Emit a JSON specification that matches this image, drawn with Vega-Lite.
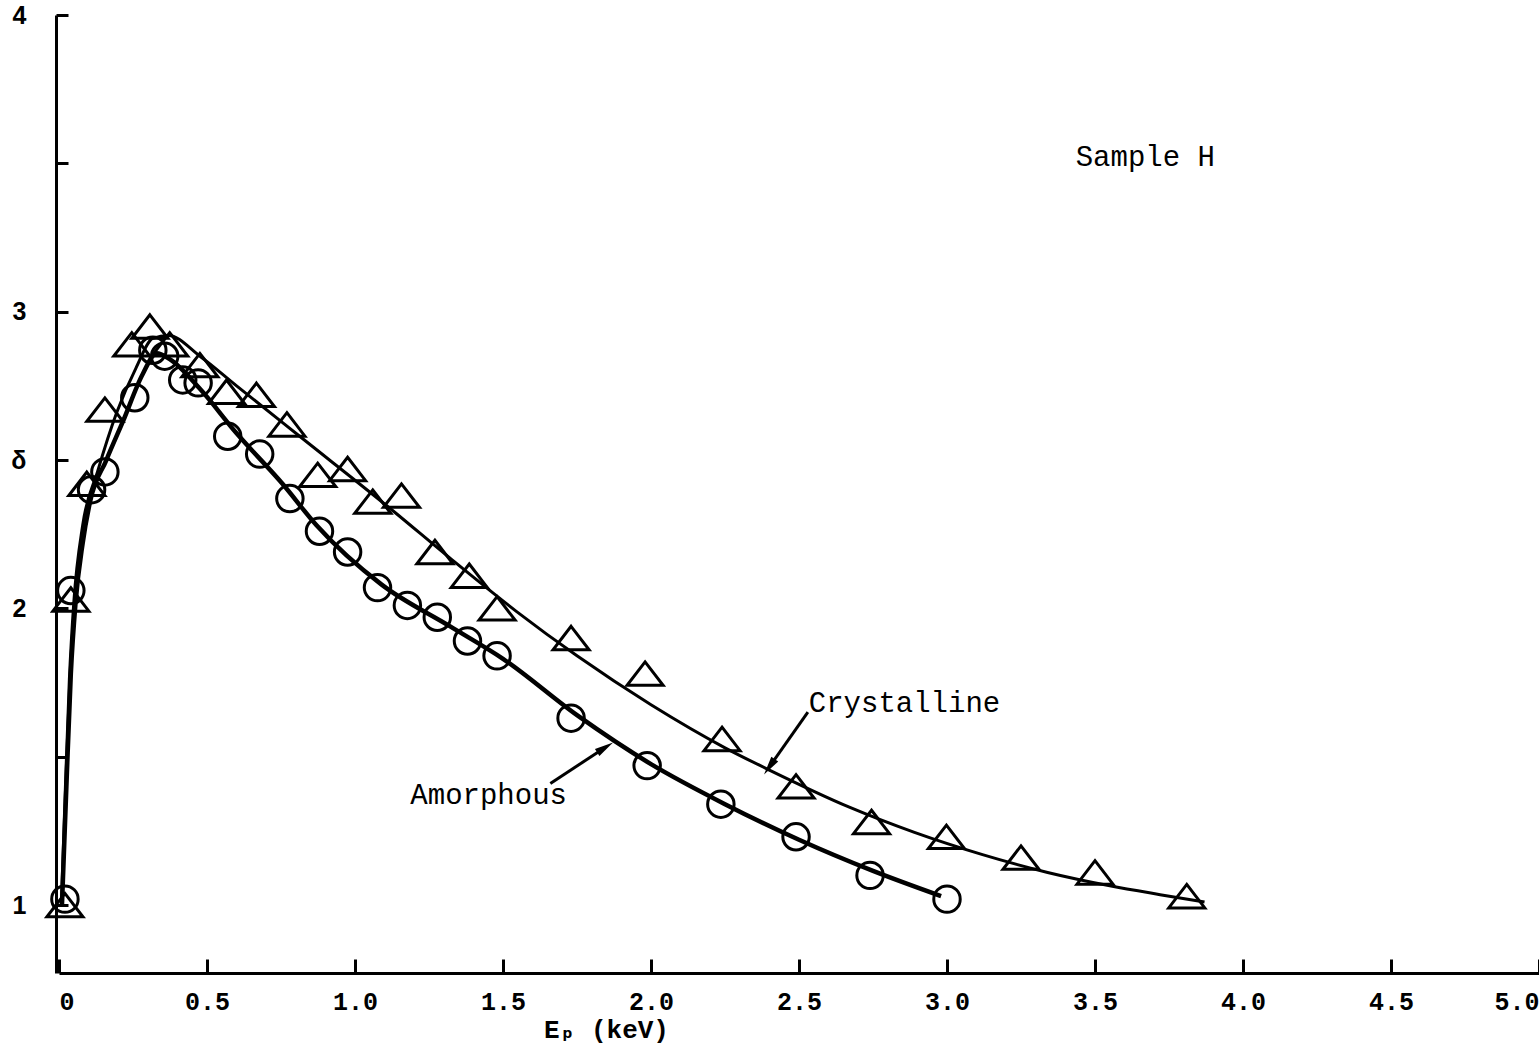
{
  "$schema": "https://vega.github.io/schema/vega-lite/v6.json",
  "width": 1480,
  "height": 958,
  "autosize": {"type": "none"},
  "padding": {"left": 59, "top": 15, "right": 0, "bottom": 84},
  "background": "white",
  "config": {
    "view": {"stroke": null},
    "axis": {"grid": false, "domainColor": "black", "tickColor": "black", "labelColor": "black", "titleColor": "black", "domainWidth": 3, "tickWidth": 3}
  },
  "data": {
    "values": [
      {"k": "pt", "s": "Crystalline", "x": 0.02, "y": 1.0},
      {"k": "pt", "s": "Crystalline", "x": 0.04, "y": 2.03},
      {"k": "pt", "s": "Crystalline", "x": 0.094, "y": 2.42},
      {"k": "pt", "s": "Crystalline", "x": 0.155, "y": 2.67},
      {"k": "pt", "s": "Crystalline", "x": 0.246, "y": 2.89},
      {"k": "pt", "s": "Crystalline", "x": 0.307, "y": 2.95},
      {"k": "pt", "s": "Crystalline", "x": 0.374, "y": 2.89},
      {"k": "pt", "s": "Crystalline", "x": 0.476, "y": 2.82},
      {"k": "pt", "s": "Crystalline", "x": 0.566, "y": 2.73},
      {"k": "pt", "s": "Crystalline", "x": 0.667, "y": 2.72},
      {"k": "pt", "s": "Crystalline", "x": 0.77, "y": 2.62},
      {"k": "pt", "s": "Crystalline", "x": 0.874, "y": 2.45},
      {"k": "pt", "s": "Crystalline", "x": 0.975, "y": 2.47},
      {"k": "pt", "s": "Crystalline", "x": 1.06, "y": 2.36},
      {"k": "pt", "s": "Crystalline", "x": 1.157, "y": 2.38},
      {"k": "pt", "s": "Crystalline", "x": 1.27, "y": 2.19},
      {"k": "pt", "s": "Crystalline", "x": 1.386, "y": 2.11},
      {"k": "pt", "s": "Crystalline", "x": 1.48, "y": 2.0},
      {"k": "pt", "s": "Crystalline", "x": 1.73, "y": 1.9},
      {"k": "pt", "s": "Crystalline", "x": 1.98, "y": 1.78},
      {"k": "pt", "s": "Crystalline", "x": 2.24, "y": 1.56},
      {"k": "pt", "s": "Crystalline", "x": 2.49, "y": 1.4},
      {"k": "pt", "s": "Crystalline", "x": 2.745, "y": 1.28},
      {"k": "pt", "s": "Crystalline", "x": 2.998, "y": 1.23},
      {"k": "pt", "s": "Crystalline", "x": 3.25, "y": 1.16},
      {"k": "pt", "s": "Crystalline", "x": 3.5, "y": 1.11},
      {"k": "pt", "s": "Crystalline", "x": 3.81, "y": 1.03},
      {"k": "pt", "s": "Amorphous", "x": 0.02, "y": 1.02},
      {"k": "pt", "s": "Amorphous", "x": 0.04, "y": 2.06},
      {"k": "pt", "s": "Amorphous", "x": 0.11, "y": 2.4},
      {"k": "pt", "s": "Amorphous", "x": 0.155, "y": 2.46},
      {"k": "pt", "s": "Amorphous", "x": 0.256, "y": 2.71},
      {"k": "pt", "s": "Amorphous", "x": 0.317, "y": 2.87},
      {"k": "pt", "s": "Amorphous", "x": 0.357, "y": 2.85},
      {"k": "pt", "s": "Amorphous", "x": 0.418, "y": 2.77},
      {"k": "pt", "s": "Amorphous", "x": 0.47, "y": 2.76},
      {"k": "pt", "s": "Amorphous", "x": 0.57, "y": 2.58},
      {"k": "pt", "s": "Amorphous", "x": 0.678, "y": 2.52},
      {"k": "pt", "s": "Amorphous", "x": 0.78, "y": 2.37},
      {"k": "pt", "s": "Amorphous", "x": 0.88, "y": 2.26},
      {"k": "pt", "s": "Amorphous", "x": 0.975, "y": 2.19},
      {"k": "pt", "s": "Amorphous", "x": 1.076, "y": 2.07},
      {"k": "pt", "s": "Amorphous", "x": 1.177, "y": 2.01},
      {"k": "pt", "s": "Amorphous", "x": 1.278, "y": 1.97},
      {"k": "pt", "s": "Amorphous", "x": 1.38, "y": 1.89},
      {"k": "pt", "s": "Amorphous", "x": 1.48, "y": 1.84},
      {"k": "pt", "s": "Amorphous", "x": 1.73, "y": 1.63},
      {"k": "pt", "s": "Amorphous", "x": 1.987, "y": 1.47},
      {"k": "pt", "s": "Amorphous", "x": 2.236, "y": 1.34},
      {"k": "pt", "s": "Amorphous", "x": 2.49, "y": 1.23},
      {"k": "pt", "s": "Amorphous", "x": 2.74, "y": 1.1},
      {"k": "pt", "s": "Amorphous", "x": 3.0, "y": 1.02},
      {"k": "fit", "s": "Crystalline", "x": 0.008, "y": 1.0},
      {"k": "fit", "s": "Crystalline", "x": 0.02, "y": 1.35},
      {"k": "fit", "s": "Crystalline", "x": 0.035, "y": 1.76},
      {"k": "fit", "s": "Crystalline", "x": 0.05, "y": 2.02},
      {"k": "fit", "s": "Crystalline", "x": 0.08, "y": 2.28},
      {"k": "fit", "s": "Crystalline", "x": 0.13, "y": 2.46},
      {"k": "fit", "s": "Crystalline", "x": 0.195, "y": 2.66},
      {"k": "fit", "s": "Crystalline", "x": 0.26, "y": 2.81},
      {"k": "fit", "s": "Crystalline", "x": 0.317, "y": 2.91},
      {"k": "fit", "s": "Crystalline", "x": 0.37, "y": 2.92},
      {"k": "fit", "s": "Crystalline", "x": 0.476, "y": 2.85},
      {"k": "fit", "s": "Crystalline", "x": 0.6, "y": 2.75},
      {"k": "fit", "s": "Crystalline", "x": 0.813, "y": 2.58},
      {"k": "fit", "s": "Crystalline", "x": 1.127, "y": 2.33},
      {"k": "fit", "s": "Crystalline", "x": 1.32, "y": 2.17},
      {"k": "fit", "s": "Crystalline", "x": 1.545, "y": 1.99},
      {"k": "fit", "s": "Crystalline", "x": 1.75, "y": 1.84},
      {"k": "fit", "s": "Crystalline", "x": 2.0, "y": 1.675},
      {"k": "fit", "s": "Crystalline", "x": 2.25, "y": 1.53},
      {"k": "fit", "s": "Crystalline", "x": 2.4, "y": 1.455},
      {"k": "fit", "s": "Crystalline", "x": 2.67, "y": 1.33},
      {"k": "fit", "s": "Crystalline", "x": 2.89, "y": 1.245},
      {"k": "fit", "s": "Crystalline", "x": 3.12, "y": 1.17},
      {"k": "fit", "s": "Crystalline", "x": 3.34, "y": 1.11},
      {"k": "fit", "s": "Crystalline", "x": 3.55, "y": 1.065},
      {"k": "fit", "s": "Crystalline", "x": 3.72, "y": 1.035},
      {"k": "fit", "s": "Crystalline", "x": 3.87, "y": 1.01},
      {"k": "fit", "s": "Amorphous", "x": 0.01, "y": 1.0},
      {"k": "fit", "s": "Amorphous", "x": 0.025, "y": 1.4},
      {"k": "fit", "s": "Amorphous", "x": 0.04, "y": 1.78},
      {"k": "fit", "s": "Amorphous", "x": 0.056, "y": 2.02},
      {"k": "fit", "s": "Amorphous", "x": 0.08, "y": 2.22},
      {"k": "fit", "s": "Amorphous", "x": 0.105, "y": 2.36},
      {"k": "fit", "s": "Amorphous", "x": 0.16, "y": 2.5},
      {"k": "fit", "s": "Amorphous", "x": 0.216, "y": 2.63},
      {"k": "fit", "s": "Amorphous", "x": 0.283, "y": 2.79},
      {"k": "fit", "s": "Amorphous", "x": 0.33, "y": 2.86},
      {"k": "fit", "s": "Amorphous", "x": 0.374, "y": 2.84},
      {"k": "fit", "s": "Amorphous", "x": 0.476, "y": 2.74},
      {"k": "fit", "s": "Amorphous", "x": 0.6, "y": 2.59},
      {"k": "fit", "s": "Amorphous", "x": 0.755, "y": 2.42},
      {"k": "fit", "s": "Amorphous", "x": 0.87, "y": 2.28},
      {"k": "fit", "s": "Amorphous", "x": 1.09, "y": 2.08},
      {"k": "fit", "s": "Amorphous", "x": 1.32, "y": 1.94},
      {"k": "fit", "s": "Amorphous", "x": 1.5, "y": 1.83},
      {"k": "fit", "s": "Amorphous", "x": 1.75, "y": 1.64},
      {"k": "fit", "s": "Amorphous", "x": 2.0, "y": 1.475},
      {"k": "fit", "s": "Amorphous", "x": 2.25, "y": 1.34},
      {"k": "fit", "s": "Amorphous", "x": 2.5, "y": 1.22},
      {"k": "fit", "s": "Amorphous", "x": 2.75, "y": 1.115},
      {"k": "fit", "s": "Amorphous", "x": 2.98, "y": 1.03},
      {"k": "arrow", "s": "Crystalline", "x": 2.53, "y": 1.65, "x2": 2.4, "y2": 1.466},
      {"k": "arrow", "s": "Amorphous", "x": 1.66, "y": 1.41, "x2": 1.845, "y2": 1.531},
      {"k": "head", "s": "Crystalline", "x": 2.4, "y": 1.466},
      {"k": "head", "s": "Amorphous", "x": 1.845, "y": 1.531},
      {"k": "label", "s": "Sample H", "x": 3.67, "y": 3.52},
      {"k": "label", "s": "Crystalline", "x": 2.533, "y": 1.68},
      {"k": "label", "s": "Amorphous", "x": 1.187, "y": 1.37}
    ]
  },
  "encoding": {
    "x": {
      "field": "x", "type": "quantitative",
      "scale": {"domain": [0, 5], "nice": false, "zero": false},
      "axis": {
        "title": "Eₚ (keV)",
        "values": [0, 0.5, 1, 1.5, 2, 2.5, 3, 3.5, 4, 4.5, 5],
        "labelExpr": "datum.value == 0 ? '0' : format(datum.value, '.1f')",
        "labelFont": "Liberation Mono", "labelFontSize": 25, "labelFontWeight": "bold",
        "labelFlush": true,
        "tickSize": -14, "labelPadding": 30,
        "titleFont": "Liberation Mono, DejaVu Sans Mono", "titleFontSize": 26, "titleFontWeight": "bold",
        "titleX": 547, "titleY": 64, "titleAlign": "center", "titleBaseline": "alphabetic"
      }
    },
    "y": {
      "field": "y", "type": "quantitative",
      "scale": {"domain": [0.771, 4], "nice": false, "zero": false},
      "axis": {
        "title": null,
        "values": [1, 1.5, 2, 2.5, 3, 3.5, 4],
        "labelExpr": "datum.value == 2.5 ? 'δ' : (datum.value % 1 != 0 ? '' : format(datum.value, 'd'))",
        "labelFont": "Liberation Sans", "labelFontSize": 25, "labelFontWeight": "bold",
        "tickSize": -12, "labelPadding": 42, "offset": 3
      }
    }
  },
  "layer": [
    {
      "transform": [{"filter": "datum.k == 'fit' && datum.s == 'Crystalline'"}],
      "mark": {"type": "line", "interpolate": "monotone", "color": "black", "strokeWidth": 3}
    },
    {
      "transform": [{"filter": "datum.k == 'fit' && datum.s == 'Amorphous'"}],
      "mark": {"type": "line", "interpolate": "monotone", "color": "black", "strokeWidth": 4.5}
    },
    {
      "transform": [{"filter": "datum.k == 'pt' && datum.s == 'Crystalline'"}],
      "mark": {"type": "point", "shape": "M0,-0.65L1,0.65L-1,0.65Z", "size": 1300, "filled": false, "stroke": "black", "strokeWidth": 3, "opacity": 1}
    },
    {
      "transform": [{"filter": "datum.k == 'pt' && datum.s == 'Amorphous'"}],
      "mark": {"type": "point", "shape": "circle", "size": 700, "filled": false, "stroke": "black", "strokeWidth": 3, "opacity": 1}
    },
    {
      "transform": [{"filter": "datum.k == 'arrow'"}],
      "mark": {"type": "rule", "color": "black", "strokeWidth": 3},
      "encoding": {"x2": {"field": "x2"}, "y2": {"field": "y2"}}
    },
    {
      "transform": [{"filter": "datum.k == 'head' && datum.s == 'Crystalline'"}],
      "mark": {"type": "point", "shape": "M0,-1L0.45,1L-0.45,1Z", "size": 350, "filled": true, "color": "black", "opacity": 1, "angle": 215}
    },
    {
      "transform": [{"filter": "datum.k == 'head' && datum.s == 'Amorphous'"}],
      "mark": {"type": "point", "shape": "M0,-1L0.45,1L-0.45,1Z", "size": 350, "filled": true, "color": "black", "opacity": 1, "angle": 58}
    },
    {
      "transform": [{"filter": "datum.k == 'label' && datum.s == 'Sample H'"}],
      "mark": {"type": "text", "font": "Liberation Mono", "fontSize": 29, "align": "center", "baseline": "middle", "color": "black"},
      "encoding": {"text": {"field": "s"}}
    },
    {
      "transform": [{"filter": "datum.k == 'label' && datum.s != 'Sample H'"}],
      "mark": {"type": "text", "font": "Liberation Mono", "fontSize": 29, "align": "left", "baseline": "middle", "color": "black"},
      "encoding": {"text": {"field": "s"}}
    }
  ]
}
